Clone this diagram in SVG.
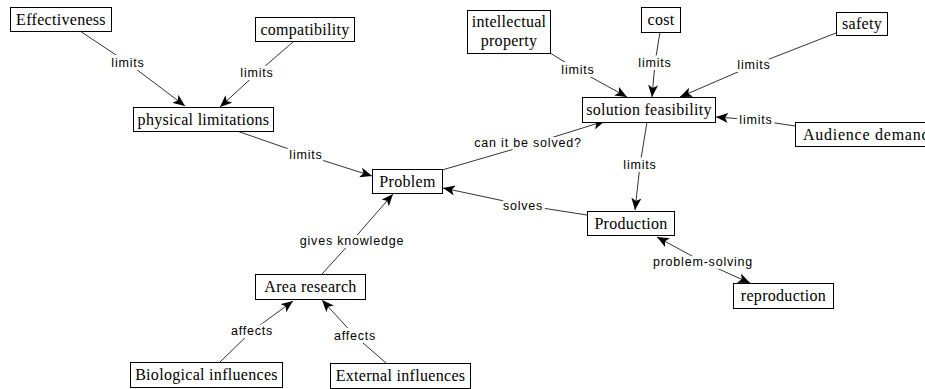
<svg xmlns="http://www.w3.org/2000/svg" width="925" height="389" viewBox="0 0 925 389">
<defs>
<marker id="ah" viewBox="0 0 12 10" refX="12" refY="5" markerWidth="12" markerHeight="10" markerUnits="userSpaceOnUse" orient="auto-start-reverse">
<path d="M0,0 L12,5 L0,10 L3,5 Z" fill="#000"/>
</marker>
</defs>
<style>
.node rect{fill:#fff;stroke:#000;stroke-width:1}
.node text{font-family:"Liberation Serif","Times New Roman",serif;font-size:16px;letter-spacing:0.3px;text-anchor:middle;fill:#000}
.edge{fill:none;stroke:#333;stroke-width:1}
.lbl{font-family:"Liberation Sans",Arial,sans-serif;font-size:12.5px;letter-spacing:0.8px;text-anchor:middle;fill:#000;paint-order:stroke;stroke:#fff;stroke-width:6px;stroke-linejoin:round}
</style>
<rect width="925" height="389" fill="#fff"/>
<g id="connectors">
<polyline class="edge" points="80,31 128,63 185,106" marker-end="url(#ah)"/>
<polyline class="edge" points="293,42 257,73 220,107" marker-end="url(#ah)"/>
<polyline class="edge" points="237,131 306,155 372,176" marker-end="url(#ah)"/>
<polyline class="edge" points="442,170 528,145 605,121" marker-end="url(#ah)"/>
<polyline class="edge" points="647,122 640,165 635,210" marker-end="url(#ah)"/>
<polyline class="edge" points="587,215 523,205 443,188" marker-end="url(#ah)"/>
<polyline class="edge" points="322,274 352,241 393,194" marker-end="url(#ah)"/>
<polyline class="edge" points="220,362 252,331 293,301" marker-end="url(#ah)"/>
<polyline class="edge" points="386,363 355,336 322,300" marker-end="url(#ah)"/>
<polyline class="edge" points="550,53 578,70 627,97" marker-end="url(#ah)"/>
<polyline class="edge" points="660,32 655,63 652,97" marker-end="url(#ah)"/>
<polyline class="edge" points="836,33 754,65 680,97" marker-end="url(#ah)"/>
<polyline class="edge" points="795,126 756,120 716,117" marker-end="url(#ah)"/>
<polyline class="edge" points="657,237 703,262 750,283" marker-start="url(#ah)" marker-end="url(#ah)"/>
<text class="lbl" x="128" y="67">limits</text>
<text class="lbl" x="257" y="77">limits</text>
<text class="lbl" x="306" y="159">limits</text>
<text class="lbl" x="528" y="147">can it be solved?</text>
<text class="lbl" x="640" y="169">limits</text>
<text class="lbl" x="523" y="210">solves</text>
<text class="lbl" x="352" y="245">gives knowledge</text>
<text class="lbl" x="252" y="335">affects</text>
<text class="lbl" x="355" y="340">affects</text>
<text class="lbl" x="578" y="74">limits</text>
<text class="lbl" x="655" y="67">limits</text>
<text class="lbl" x="754" y="69">limits</text>
<text class="lbl" x="756" y="124">limits</text>
<text class="lbl" x="703" y="266">problem-solving</text>
</g>
<g id="n-effectiveness" class="node"><rect x="10.5" y="7.5" width="101" height="24"/><text x="61" y="25">Effectiveness</text></g>
<g id="n-compatibility" class="node"><rect x="255.5" y="17.5" width="99" height="24"/><text x="305" y="35">compatibility</text></g>
<g id="n-physical" class="node"><rect x="133.5" y="107.5" width="140" height="24"/><text x="203.5" y="125">physical limitations</text></g>
<g id="n-problem" class="node"><rect x="372.5" y="169.5" width="70" height="24"/><text x="407.5" y="187">Problem</text></g>
<g id="n-ip" class="node"><rect x="467.5" y="10.5" width="83" height="43"/><text x="509" y="27">intellectual</text><text x="509" y="46">property</text></g>
<g id="n-cost" class="node"><rect x="641.5" y="7.5" width="39" height="25"/><text x="661" y="25">cost</text></g>
<g id="n-safety" class="node"><rect x="836.5" y="12.5" width="51" height="23"/><text x="862" y="29">safety</text></g>
<g id="n-feasibility" class="node"><rect x="582.5" y="97.5" width="133" height="25"/><text x="649" y="115">solution feasibility</text></g>
<g id="n-audience" class="node"><rect x="795.5" y="122.5" width="150" height="24"/><text x="803" y="140" style="text-anchor:start;letter-spacing:0.75px">Audience demand</text></g>
<g id="n-production" class="node"><rect x="587.5" y="211.5" width="87" height="24"/><text x="631" y="229">Production</text></g>
<g id="n-reproduction" class="node"><rect x="733.5" y="283.5" width="100" height="25"/><text x="783.5" y="301">reproduction</text></g>
<g id="n-area" class="node"><rect x="255.5" y="274.5" width="110" height="25"/><text x="310.5" y="292">Area research</text></g>
<g id="n-biological" class="node"><rect x="130.5" y="362.5" width="152" height="25"/><text x="206.5" y="380">Biological influences</text></g>
<g id="n-external" class="node"><rect x="330.5" y="363.5" width="140" height="25"/><text x="400.5" y="381">External influences</text></g>
</svg>
